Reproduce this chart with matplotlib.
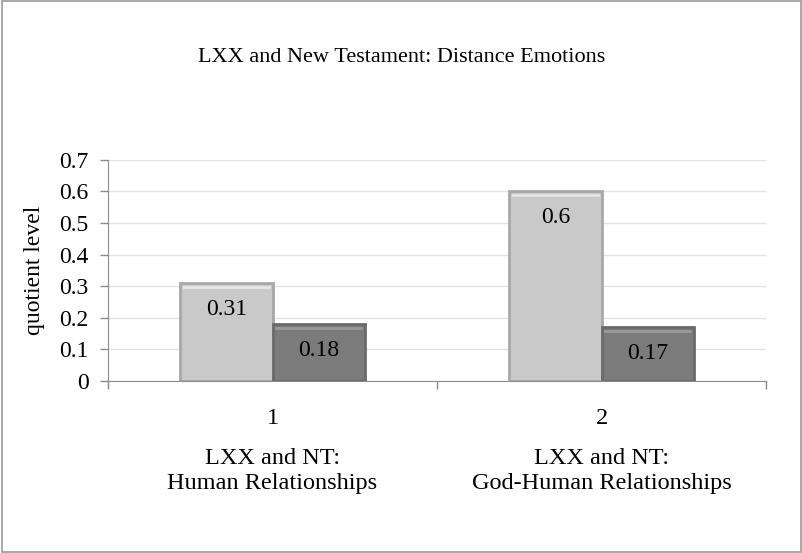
import matplotlib.pyplot as plt
import matplotlib
from matplotlib.patches import Rectangle
from matplotlib.transforms import blended_transform_factory

matplotlib.rcParams["font.family"] = ["Liberation Serif", "DejaVu Serif"]

# 데이터
categories = ["1", "2"]
group_labels = ["LXX and NT:\nHuman Relationships", "LXX and NT:\nGod-Human Relationships"]
series_a = [0.31, 0.6]
series_b = [0.18, 0.17]
y_ticks = [0, 0.1, 0.2, 0.3, 0.4, 0.5, 0.6, 0.7]

LIGHT = "#c9c9c9"
DARK = "#7b7b7b"
AXIS = "#8c8c8c"
GRID = "#e3e3e3"


def main():
    fig = plt.figure(figsize=(8.03, 5.53), dpi=100)
    fig.patches.append(Rectangle((0.002, 0.002), 0.996, 0.996, transform=fig.transFigure,
                                 fill=False, edgecolor="#9a9a9a", linewidth=1.2))
    ax = fig.add_axes([0.1345, 0.311, 0.8195, 0.400])

    x = [1, 2]
    w = 0.28
    xa = [v - w / 2 for v in x]
    xb = [v + w / 2 for v in x]
    bars_a = ax.bar(xa, series_a, width=w, color=LIGHT, edgecolor="#a8a8a8", linewidth=2.0, zorder=3)
    bars_b = ax.bar(xb, series_b, width=w, color=DARK, edgecolor="#6a6a6a", linewidth=2.0, zorder=3)
    # 베벨 느낌 하이라이트
    for b in list(bars_a) + list(bars_b):
        hl = "#e6e6e6" if b in bars_a else "#9a9a9a"
        ax.plot([b.get_x() + 0.012, b.get_x() + b.get_width() - 0.012],
                [b.get_height() - 0.012] * 2, color=hl, lw=2, zorder=4)

    for bars, vals in [(bars_a, series_a), (bars_b, series_b)]:
        for b, v in zip(bars, vals):
            ax.annotate(f"{v:g}", (b.get_x() + b.get_width() / 2, v), xytext=(0, -19),
                        textcoords="offset points", ha="center", va="center", fontsize=17, zorder=5)

    ax.set_xlim(0.5, 2.5)
    ax.set_ylim(0, 0.7)
    ax.set_yticks(y_ticks)
    ax.set_yticklabels([f"{t:g}" for t in y_ticks], fontsize=17)
    ax.yaxis.grid(True, color=GRID, linewidth=1, zorder=0)
    ax.set_axisbelow(True)

    ax.set_xticks([0.5, 1.5, 2.5])
    ax.set_xticklabels([])
    ax.tick_params(axis="both", colors=AXIS, length=6, width=1, labelcolor="black")
    ax.tick_params(axis="y", pad=8)

    for s in ["top", "right"]:
        ax.spines[s].set_visible(False)
    for s in ["left", "bottom"]:
        ax.spines[s].set_color(AXIS)

    trans = blended_transform_factory(ax.transData, fig.transFigure)
    for xi, c, g in zip(x, categories, group_labels):
        ax.text(xi, 1 - 419 / 553, c, transform=trans, ha="center", va="center", fontsize=17.5)
        ax.text(xi, 1 - 471 / 553, g, transform=trans, ha="center", va="center", fontsize=17.5,
                linespacing=1.2)

    ax.set_ylabel("quotient level", fontsize=17, labelpad=10)
    fig.text(0.5, 1 - 57 / 553, "LXX and New Testament: Distance Emotions",
             ha="center", va="center", fontsize=16)

    fig.savefig("out.png", dpi=100)
    plt.close(fig)


if __name__ == "__main__":
    main()
